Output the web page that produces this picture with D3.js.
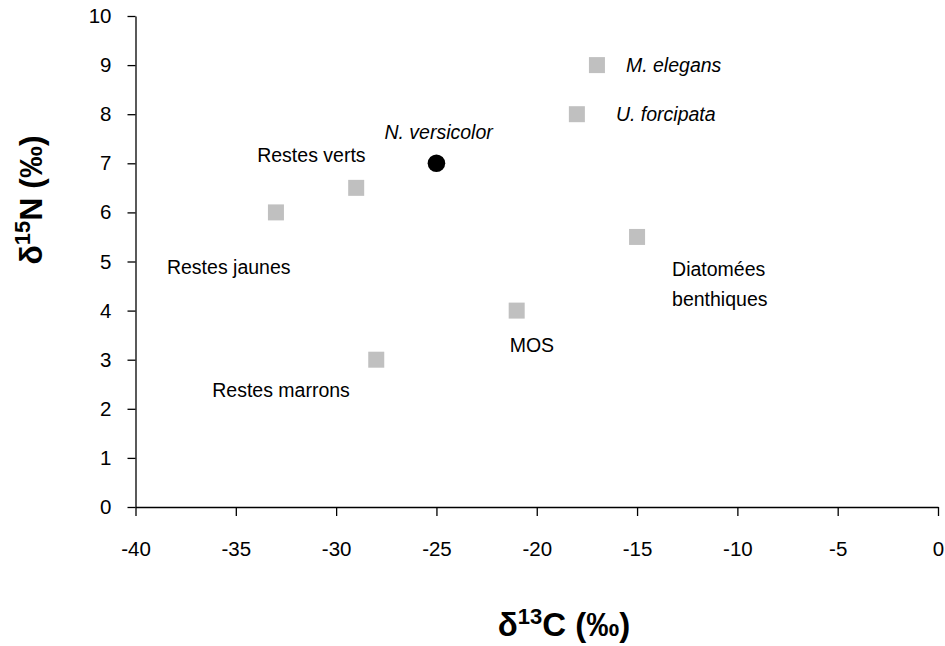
<!DOCTYPE html>
<html>
<head>
<meta charset="utf-8">
<script src="https://cdn.jsdelivr.net/npm/d3@7"></script>
<style>
  body { margin: 0; background: #fff; }
  svg text { font-family: "Liberation Sans", Arial, sans-serif; fill: #000; }
</style>
</head>
<body>
<div id="chart"></div>
<script>
const kWidth = 945;
const kHeight = 646;

// values
const names = ["M. elegans", "U. forcipata", "N. versicolor", "Restes verts", "Restes jaunes", "Restes marrons", "MOS", "Diatomées benthiques"];
const d13C = [-17, -18, -25, -29, -33, -28, -21, -15];
const d15N = [9, 8, 7, 6.5, 6, 3, 4, 5.5];
const isConsumer = [false, false, true, false, false, false, false, false];
const italicNames = [true, true, true, false, false, false, false, false];
const xTicks = [-40, -35, -30, -25, -20, -15, -10, -5, 0];
const yTicks = [0, 1, 2, 3, 4, 5, 6, 7, 8, 9, 10];

// label placement relative to the marker (pixels)
const labelOffsets = [[29, 0], [39, 0], [-52, -31], [-99, -32], [-109, 55], [-164, 31], [-7, 35], [35, 33]];

function createSvg()
{
  return d3.select("#chart")
    .append("svg")
    .attr("width", kWidth)
    .attr("height", kHeight);
}

function drawChart(svg)
{
  const x = d3.scaleLinear().domain([-40, 0]).range([135.5, 938]);
  const y = d3.scaleLinear().domain([0, 10]).range([507, 16]);

  const xAxis = d3.axisBottom(x)
    .tickValues(xTicks)
    .tickSize(9)
    .tickSizeOuter(0)
    .tickPadding(25)
    .tickFormat(d3.format("d"));

  const yAxis = d3.axisLeft(y)
    .tickValues(yTicks)
    .tickSize(8)
    .tickSizeOuter(0)
    .tickPadding(16)
    .tickFormat(d3.format("d"));

  const gx = svg.append("g")
    .attr("transform", `translate(0, ${y(0)})`)
    .call(xAxis);

  const gy = svg.append("g")
    .attr("transform", `translate(${x(-40)}, 0)`)
    .call(yAxis);

  [gx, gy].forEach(g => {
    g.selectAll("path, line").attr("stroke", "#000").attr("stroke-width", 1.3);
    g.selectAll("text")
      .style("font-family", "'Liberation Sans', Arial, sans-serif")
      .style("font-size", "20.5px")
      .attr("fill", "#000");
  });
  // minus sign as plain hyphen like the original
  gx.selectAll("text").text(d => String(d));

  const points = d13C.map((c, i) => ({ name: names[i], c: c, n: d15N[i], consumer: isConsumer[i], italic: italicNames[i], off: labelOffsets[i] }));

  const sq = 16;
  svg.selectAll("rect.source")
    .data(points.filter(d => !d.consumer))
    .enter()
    .append("rect")
    .attr("class", "source")
    .attr("x", d => x(d.c) - sq / 2)
    .attr("y", d => y(d.n) - sq / 2)
    .attr("width", sq)
    .attr("height", sq)
    .attr("fill", "#c0c0c0");

  svg.selectAll("circle.consumer")
    .data(points.filter(d => d.consumer))
    .enter()
    .append("circle")
    .attr("class", "consumer")
    .attr("cx", d => x(d.c))
    .attr("cy", d => y(d.n))
    .attr("r", 8.8)
    .attr("fill", "#000");

  const labels = svg.selectAll("text.label")
    .data(points)
    .enter()
    .append("text")
    .attr("class", "label")
    .attr("x", d => x(d.c) + d.off[0])
    .attr("y", d => y(d.n) + d.off[1] + 6.5)
    .style("font-size", "19.5px")
    .style("font-style", d => d.italic ? "italic" : "normal");

  labels.each(function(d) {
    const words = d.name === "Diatomées benthiques" ? ["Diatomées", "benthiques"] : [d.name];
    const t = d3.select(this);
    words.forEach((w, k) => {
      t.append("tspan")
        .attr("x", x(d.c) + d.off[0])
        .attr("dy", k === 0 ? 0 : 30)
        .text(w);
    });
  });

  // axis titles
  const xt = svg.append("text")
    .attr("x", 564)
    .attr("y", 636)
    .attr("text-anchor", "middle")
    .style("font-size", "33px")
    .style("font-weight", "bold");
  xt.append("tspan").text("δ");
  xt.append("tspan").attr("dy", -12).style("font-size", "22px").text("13");
  xt.append("tspan").attr("dy", 12).text("C (‰)");

  const yt = svg.append("text")
    .attr("transform", "translate(42, 200) rotate(-90)")
    .attr("text-anchor", "middle")
    .style("font-size", "32px")
    .style("font-weight", "bold");
  yt.append("tspan").text("δ");
  yt.append("tspan").attr("dy", -12).style("font-size", "22px").text("15");
  yt.append("tspan").attr("dy", 12).text("N (‰)");
}

document.addEventListener("DOMContentLoaded", () => {
  const svg = createSvg();
  drawChart(svg);
});
</script>
</body>
</html>
